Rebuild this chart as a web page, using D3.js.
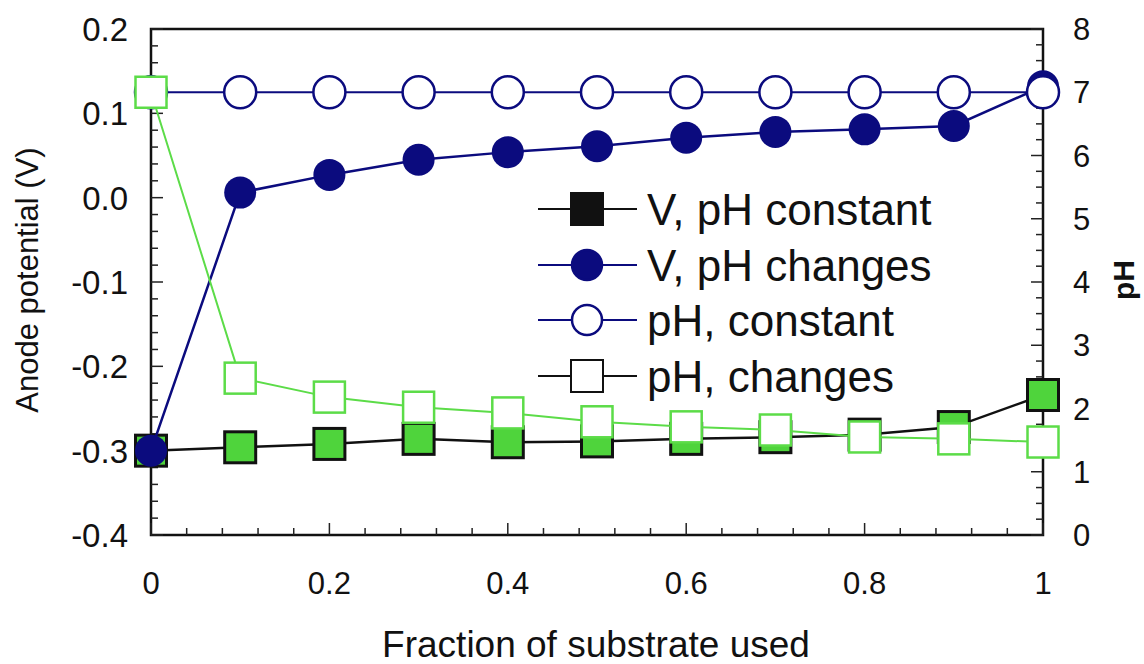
<!DOCTYPE html>
<html><head><meta charset="utf-8">
<script src="https://cdn.jsdelivr.net/npm/d3@7"></script>
<style>body{margin:0;background:#fff}svg{display:block}</style>
</head><body>
<svg id="c" width="1144" height="664"></svg>
<script>
const fraction = [0, 0.1, 0.2, 0.3, 0.4, 0.5, 0.6, 0.7, 0.8, 0.9, 1.0];
const vPhConstant = [-0.300, -0.296, -0.292, -0.286, -0.290, -0.289, -0.286, -0.284, -0.281, -0.272, -0.234];
const vPhChanges = [-0.300, 0.006, 0.027, 0.045, 0.054, 0.061, 0.071, 0.078, 0.081, 0.085, 0.132];
const phConstant = [7, 7, 7, 7, 7, 7, 7, 7, 7, 7, 7];
const phChanges = [7.0, 2.48, 2.18, 2.02, 1.93, 1.79, 1.71, 1.66, 1.55, 1.52, 1.47];
const xTicks = [0, 0.2, 0.4, 0.6, 0.8, 1];
const yLeftTicks = [-0.4, -0.3, -0.2, -0.1, 0.0, 0.1, 0.2];
const yRightTicks = [0, 1, 2, 3, 4, 5, 6, 7, 8];
const legendLabels = ["V, pH constant", "V, pH changes", "pH, constant", "pH, changes"];

const navy = "#0b0b7e", green = "#5cdc48", greenFill = "#4fd43c";
const svg = d3.select("#c");
const L = 151, R = 1043, T = 29, B = 535;
const x = d3.scaleLinear().domain([0, 1]).range([L, R]);
const yL = d3.scaleLinear().domain([-0.4, 0.2]).range([B, T]);
const yR = d3.scaleLinear().domain([0, 8]).range([B, T]);
const font = "'Liberation Sans', Arial, sans-serif";

// frame
svg.append("rect").attr("x", L).attr("y", T).attr("width", R - L).attr("height", B - T)
  .attr("fill", "none").attr("stroke", "#111").attr("stroke-width", 2.5);

// ticks (inward)
const g = svg.append("g").attr("stroke", "#222").attr("stroke-width", 1.5);
d3.range(0, 1.0001, 0.04).forEach(v => {
  const len = Math.abs(Math.round(v * 10) - v * 10) < 1e-6 && Math.round(v*10)%2===0 ? 12 : 7;
  g.append("line").attr("x1", x(v)).attr("x2", x(v)).attr("y1", B).attr("y2", B - len);
});
d3.range(-0.4, 0.2001, 0.02).forEach(v => {
  const major = Math.abs(v * 10 - Math.round(v * 10)) < 1e-6;
  g.append("line").attr("x1", L).attr("x2", L + (major ? 12 : 7)).attr("y1", yL(v)).attr("y2", yL(v));
});
d3.range(0, 8.001, 0.25).forEach(v => {
  const major = Math.abs(v - Math.round(v)) < 1e-6;
  g.append("line").attr("x1", R).attr("x2", R - (major ? 12 : 7)).attr("y1", yR(v)).attr("y2", yR(v));
});

// tick labels
svg.append("g").selectAll("text").data(yLeftTicks).join("text")
  .attr("x", 128).attr("y", d => yL(d)).attr("dy", "0.36em").attr("text-anchor", "end")
  .attr("font-family", font).attr("font-size", 33).attr("fill", "#111")
  .text(d => d3.format(".1f")(d).replace("−", "-"));
svg.append("g").selectAll("text").data(yRightTicks).join("text")
  .attr("x", 1073).attr("y", d => yR(d)).attr("dy", "0.36em").attr("text-anchor", "start")
  .attr("font-family", font).attr("font-size", 31).attr("fill", "#111").text(d => d);
svg.append("g").selectAll("text").data(xTicks).join("text")
  .attr("x", d => x(d)).attr("y", 594).attr("text-anchor", "middle")
  .attr("font-family", font).attr("font-size", 31).attr("fill", "#111").text(d => d);

// axis titles
svg.append("text").attr("transform", "translate(38,280) rotate(-90)").attr("text-anchor", "middle")
  .attr("font-family", font).attr("font-size", 31).attr("fill", "#111").text("Anode potential (V)");
svg.append("text").attr("transform", "translate(1134,280) rotate(-90)").attr("text-anchor", "middle")
  .attr("font-family", font).attr("font-size", 30).attr("font-weight", "bold").attr("fill", "#111").text("pH");
svg.append("text").attr("x", 596).attr("y", 657).attr("text-anchor", "middle")
  .attr("font-family", font).attr("font-size", 37).attr("fill", "#111").text("Fraction of substrate used");

const plot = svg.append("g");
function series(vals, ys, color, width) {
  plot.append("path").datum(vals.map((v, i) => [fraction[i], v]))
    .attr("fill", "none").attr("stroke", color).attr("stroke-width", width)
    .attr("d", d3.line().x(d => x(d[0])).y(d => ys(d[1])));
}
const S = 31, rC = 16;
// V, pH constant
series(vPhConstant, yL, "#111", 2.5);
plot.append("g").selectAll("rect").data(vPhConstant).join("rect")
  .attr("x", (d, i) => x(fraction[i]) - S / 2).attr("y", d => yL(d) - S / 2)
  .attr("width", S).attr("height", S).attr("fill", greenFill).attr("stroke", "#111").attr("stroke-width", 3);
// V, pH changes
series(vPhChanges, yL, navy, 2.5);
plot.append("g").selectAll("circle").data(vPhChanges).join("circle")
  .attr("cx", (d, i) => x(fraction[i])).attr("cy", d => yL(d)).attr("r", rC).attr("fill", navy);
// pH constant
series(phConstant, yR, navy, 2);
plot.append("g").selectAll("circle").data(phConstant).join("circle")
  .attr("cx", (d, i) => x(fraction[i])).attr("cy", d => yR(d)).attr("r", rC)
  .attr("fill", "#fff").attr("stroke", navy).attr("stroke-width", 2.5);
// pH changes
series(phChanges, yR, green, 2);
plot.append("g").selectAll("rect").data(phChanges).join("rect")
  .attr("x", (d, i) => x(fraction[i]) - S / 2).attr("y", d => yR(d) - S / 2)
  .attr("width", S).attr("height", S).attr("fill", "#fff").attr("stroke", green).attr("stroke-width", 2.5);

// legend
const leg = svg.append("g");
const rowsY = [209, 265, 320, 376];
const legStyles = [
  {line: "#111", shape: "rect", fill: "#111", stroke: "#111"},
  {line: navy, shape: "circle", fill: navy, stroke: navy},
  {line: navy, shape: "circle", fill: "#fff", stroke: navy},
  {line: "#111", shape: "rect", fill: "#fff", stroke: "#111"}
];
legendLabels.forEach((lab, i) => {
  const y = rowsY[i], s = legStyles[i];
  leg.append("line").attr("x1", 538).attr("x2", 637).attr("y1", y).attr("y2", y)
    .attr("stroke", s.line).attr("stroke-width", 2);
  if (s.shape === "rect") {
    leg.append("rect").attr("x", 587 - 16).attr("y", y - 16).attr("width", 32).attr("height", 32)
      .attr("fill", s.fill).attr("stroke", s.stroke).attr("stroke-width", 2);
  } else {
    leg.append("circle").attr("cx", 587).attr("cy", y).attr("r", 15)
      .attr("fill", s.fill).attr("stroke", s.stroke).attr("stroke-width", 2.5);
  }
  leg.append("text").attr("x", 647).attr("y", y).attr("dy", "0.36em")
    .attr("font-family", font).attr("font-size", 44).attr("fill", "#111").text(lab);
});
</script>
</body></html>
